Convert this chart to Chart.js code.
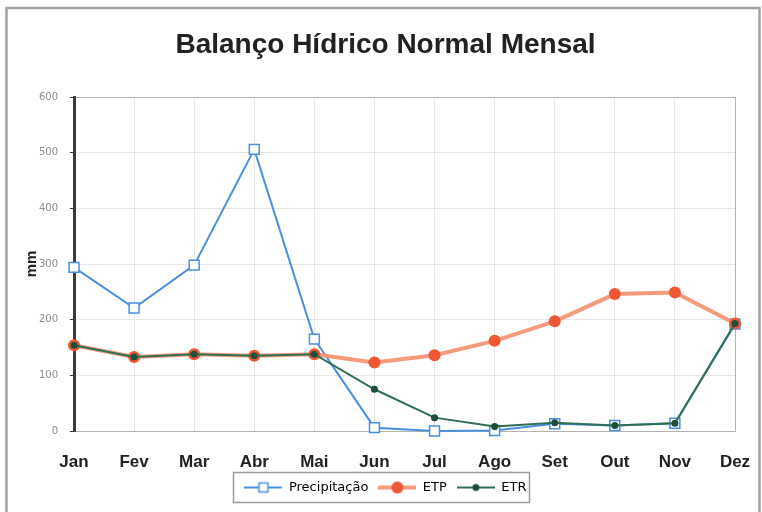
<!DOCTYPE html>
<html>
<head>
<meta charset="utf-8">
<script src="https://cdn.jsdelivr.net/npm/chart.js@4.4.1/dist/chart.umd.min.js"></script>
<style>
  html, body { margin: 0; padding: 0; background: #fff; }
  #wrap { width: 762px; height: 512px; }
</style>
</head>
<body>
<div id="wrap"><canvas id="balanco" width="762" height="512"></canvas></div>
<script>
// dados (mm)
var meses = ['Jan', 'Fev', 'Mar', 'Abr', 'Mai', 'Jun', 'Jul', 'Ago', 'Set', 'Out', 'Nov', 'Dez'];
var precipitacao = [294, 221, 298, 506, 165, 6, 0, 1, 13, 10, 14, 192];
var etp = [154, 133, 138, 135, 138, 123, 136, 162, 197, 246, 249, 193];
var etr = [154, 133, 138, 135, 138, 75, 24, 8, 15, 10, 14, 193];
var yMin = 0, yMax = 600, yStep = 100;

var azul = '#4a8fe0', laranja = '#ef5632', laranjaLinha = '#f69a7c', verde = '#2f6f55', verdeEsc = '#1f4d3b';

// icone da legenda: linha + marcador
function icone(draw) {
  var c = document.createElement('canvas');
  c.width = 38; c.height = 14;
  draw(c.getContext('2d'));
  return c;
}
var icones = [
  icone(function(g) {
    g.strokeStyle = azul; g.lineWidth = 2;
    g.beginPath(); g.moveTo(0, 7); g.lineTo(38, 7); g.stroke();
    g.fillStyle = '#fff'; g.fillRect(14, 2, 10, 10);
    g.lineWidth = 1.5; g.strokeRect(14.5, 2.5, 9, 9);
  }),
  icone(function(g) {
    g.strokeStyle = laranjaLinha; g.lineWidth = 4;
    g.beginPath(); g.moveTo(0, 7); g.lineTo(38, 7); g.stroke();
    g.fillStyle = laranja; g.beginPath(); g.arc(19, 7, 6, 0, Math.PI * 2); g.fill();
  }),
  icone(function(g) {
    g.strokeStyle = verde; g.lineWidth = 2;
    g.beginPath(); g.moveTo(0, 7); g.lineTo(38, 7); g.stroke();
    g.fillStyle = verdeEsc; g.beginPath(); g.arc(19, 7, 3.5, 0, Math.PI * 2); g.fill();
  })
];

// moldura e caixa da legenda
var moldura = {
  id: 'moldura',
  beforeDraw: function(chart) {
    var g = chart.ctx;
    g.save();
    g.fillStyle = '#fff';
    g.fillRect(0, 0, chart.width, chart.height);
    g.strokeStyle = '#a3a3a3';
    g.lineWidth = 2.5;
    g.strokeRect(6.5, 8, 753, 600);
    g.restore();
  },
  afterDraw: function(chart) {
    var hb = chart.legend.legendHitBoxes;
    if (!hb || !hb.length) return;
    var l = Infinity, r = -Infinity, t = Infinity, b = -Infinity;
    hb.forEach(function(h) {
      l = Math.min(l, h.left); r = Math.max(r, h.left + h.width);
      t = Math.min(t, h.top); b = Math.max(b, h.top + h.height);
    });
    var g = chart.ctx;
    g.save();
    g.strokeStyle = '#9c9c9c';
    g.lineWidth = 1.5;
    g.strokeRect(Math.round(l) - 10.5, Math.round(t) - 8.5, Math.round(r - l) + 14, Math.round(b - t) + 17);
    g.restore();
  }
};

new Chart(document.getElementById('balanco'), {
  type: 'line',
  plugins: [moldura],
  data: {
    labels: meses,
    datasets: [{
      label: 'Precipitação',
      data: precipitacao,
      borderColor: azul,
      borderWidth: 2,
      pointStyle: 'rect',
      pointRadius: 7,
      pointBackgroundColor: '#fff',
      pointBorderColor: azul,
      pointBorderWidth: 1.5,
      tension: 0,
      clip: false,
      order: 3
    }, {
      label: 'ETP',
      data: etp,
      borderColor: laranjaLinha,
      borderWidth: 4,
      pointRadius: 6,
      pointBackgroundColor: laranja,
      pointBorderWidth: 0,
      tension: 0,
      clip: false,
      order: 2
    }, {
      label: 'ETR',
      data: etr,
      borderColor: verde,
      borderWidth: 2,
      pointRadius: 3.5,
      pointBackgroundColor: verdeEsc,
      pointBorderWidth: 0,
      tension: 0,
      clip: false,
      order: 1
    }]
  },
  options: {
    responsive: false,
    animation: false,
    layout: { padding: { left: 36, right: 27, top: 0, bottom: 8 } },
    plugins: {
      title: {
        display: true,
        text: 'Balanço Hídrico Normal Mensal',
        color: '#222',
        font: { family: 'Liberation Sans, Arial', size: 28, weight: 'bold' },
        padding: { top: 28, bottom: 35.4 }
      },
      legend: {
        position: 'bottom',
        labels: {
          usePointStyle: true,
          pointStyleWidth: 38,
          padding: 10,
          color: '#333',
          font: { family: 'DejaVu Sans', size: 13 },
          generateLabels: function(chart) {
            return [0, 1, 2].map(function(i) {
              return {
                text: chart.data.datasets[i].label,
                pointStyle: icones[i],
                datasetIndex: i,
                hidden: false,
                lineWidth: 0,
                fillStyle: 'transparent',
                strokeStyle: 'transparent'
              };
            });
          }
        }
      },
      tooltip: { enabled: false }
    },
    scales: {
      x: {
        grid: {
          drawTicks: true,
          tickLength: 21,
          tickColor: 'rgba(0,0,0,0)',
          color: function(c) { return c.index === meses.length - 1 ? '#b3b3b3' : '#e6e6e6'; }
        },
        border: { color: '#b3b3b3', width: 1 },
        ticks: {
          color: '#222',
          padding: 0,
          maxRotation: 0,
          font: { family: 'Liberation Sans, Arial', size: 17, weight: 'bold' }
        },
        afterFit: function(s) { s.height = 40; }
      },
      y: {
        min: yMin,
        max: yMax,
        ticks: {
          stepSize: yStep,
          color: '#8c8c8c',
          padding: 12,
          font: { family: 'DejaVu Sans', size: 10 }
        },
        grid: {
          tickLength: 4,
          tickColor: '#333',
          color: function(c) { return c.tick && c.tick.value === yMax ? '#b3b3b3' : '#e6e6e6'; }
        },
        border: { color: '#3a3a3a', width: 3 },
        title: {
          display: true,
          text: 'mm',
          color: '#222',
          font: { family: 'Liberation Sans, Arial', size: 15, weight: 'bold' },
          padding: { top: -13, bottom: 0 }
        },
        afterFit: function(s) { s.width = 38; }
      }
    }
  }
});
</script>
</body>
</html>
